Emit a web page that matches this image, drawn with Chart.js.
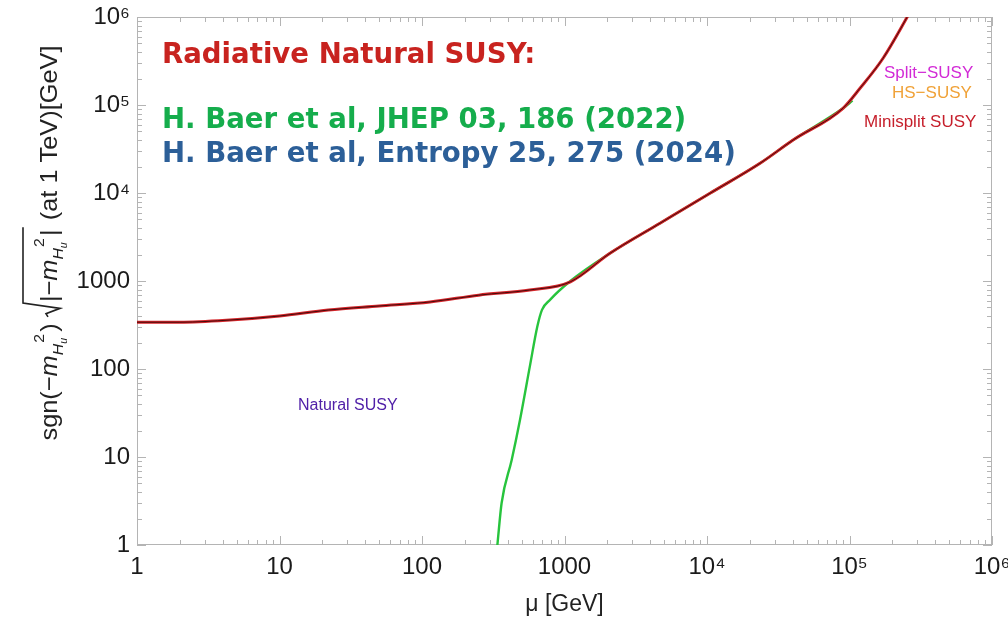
<!DOCTYPE html>
<html>
<head>
<meta charset="utf-8">
<script src="https://cdn.jsdelivr.net/npm/chart.js@4.4.1/dist/chart.umd.min.js"></script>
<style>
  html, body { margin: 0; padding: 0; background: #fff; }
  #wrap { width: 1008px; height: 622px; }
</style>
</head>
<body>
<div id="wrap"><canvas id="susyChart"></canvas></div>
<script>
// decade ticks on both log axes
const muTicks = [1, 10, 100, 1000, 1e4, 1e5, 1e6];
const muTickLabels = ['1', '10', '100', '1000', '10⁴', '10⁵', '10⁶'];
const mTicks = [1, 10, 100, 1000, 1e4, 1e5, 1e6];
const mTickLabels = ['1', '10', '100', '1000', '10⁴', '10⁵', '10⁶'];

// radiative natural SUSY curve (red)
const radMu = [1, 2, 4.5, 10, 22, 50, 114, 250, 570, 1100, 2085, 4680, 10500, 23570, 40200, 90000, 118500, 172000, 245000, 270000];
const radM = [340, 340, 360, 400, 468, 520, 578, 690, 790, 980, 2065, 4530, 9930, 21750, 40000, 91800, 155000, 340000, 900000, 1200000];

// natural SUSY curve (green)
const natMu = [338, 362, 426, 487, 573, 644, 695, 791, 1100, 2085, 4680, 10500, 23570, 40200, 90000, 105000];
const natM = [1, 3, 9.25, 26.4, 110, 302, 470, 610, 1000, 2065, 4530, 9930, 21750, 40000, 91800, 112000];

const radPoints = radMu.map((x, i) => ({ x: x, y: radM[i] }));
const natPoints = natMu.map((x, i) => ({ x: x, y: natM[i] }));

const tickFont = { family: '"Liberation Sans", Arial, sans-serif', size: 24 };

// frame + inward Mathematica-style tick marks
const frameTicks = {
    id: 'frameTicks',
    beforeDatasetsDraw(chart) {
        const { ctx, chartArea: a, scales } = chart;
        ctx.save();
        ctx.strokeStyle = '#b4b4b4';
        ctx.lineWidth = 1;
        ctx.strokeRect(a.left + 0.5, a.top + 0.5, a.right - a.left - 1, a.bottom - a.top - 1);
        ctx.beginPath();
        for (let d = 0; d < 6; d++) {
            for (let k = 1; k <= 10; k++) {
                const v = k * Math.pow(10, d);
                const len = (k === 1 || k === 10) ? 9 : 5;
                const px = Math.round(scales.x.getPixelForValue(v)) + 0.5;
                ctx.moveTo(px, a.bottom); ctx.lineTo(px, a.bottom - len);
                ctx.moveTo(px, a.top); ctx.lineTo(px, a.top + len);
                const py = Math.round(scales.y.getPixelForValue(v)) + 0.5;
                ctx.moveTo(a.left, py); ctx.lineTo(a.left + len, py);
                ctx.moveTo(a.right, py); ctx.lineTo(a.right - len, py);
            }
        }
        ctx.stroke();
        ctx.restore();
    }
};

// y axis title with sub/superscripts and a radical sign
const yTitle = {
    id: 'yTitle',
    afterDraw(chart) {
        const ctx = chart.ctx;
        const fs = 24;
        const fam = '"Liberation Sans", Arial, sans-serif';
        const parts = [
            { t: 'sgn(−', s: fs, dy: 0 },
            { t: 'm', s: fs, dy: 0, it: true },
            { t: 'H', s: 15, dy: 6, it: true, sup: '2' },
            { t: 'u', s: 10, dy: 10, it: true, gap: 6 },
            { t: ')', s: fs, dy: 0, gap: 4 },
            { sqrtStart: true },
            { t: '|−', s: fs, dy: 0 },
            { t: 'm', s: fs, dy: 0, it: true },
            { t: 'H', s: 15, dy: 6, it: true, sup: '2' },
            { t: 'u', s: 10, dy: 10, it: true, gap: 6 },
            { t: '|', s: fs, dy: 0, gap: 2 },
            { sqrtEnd: true },
            { t: ' (at 1 TeV)[GeV]', s: fs, dy: 0 }
        ];
        const fontOf = p => (p.it ? 'italic ' : '') + p.s + 'px ' + fam;
        let total = 0;
        parts.forEach(p => {
            if (p.sqrtStart) { total += 16; return; }
            if (p.sqrtEnd) return;
            ctx.font = fontOf(p);
            total += ctx.measureText(p.t).width + (p.gap || 0);
        });
        // the original title is stretched along its length
        const stretch = 395 / total;
        ctx.save();
        ctx.translate(57, 243);
        ctx.rotate(-Math.PI / 2);
        ctx.scale(stretch, 1);
        ctx.fillStyle = '#222';
        ctx.strokeStyle = '#222';
        ctx.textBaseline = 'alphabetic';
        let x = -total / 2;
        let sqrtX = 0;
        parts.forEach(p => {
            if (p.sqrtStart) { sqrtX = x + 2; x += 16; return; }
            if (p.sqrtEnd) {
                ctx.lineWidth = 1.6;
                ctx.beginPath();
                ctx.moveTo(sqrtX, -9);
                ctx.lineTo(sqrtX + 3, -11);
                ctx.lineTo(sqrtX + 8, 3);
                ctx.lineTo(sqrtX + 13, -34);
                ctx.lineTo(x, -34);
                ctx.stroke();
                return;
            }
            ctx.font = fontOf(p);
            ctx.fillText(p.t, x, p.dy);
            const w = ctx.measureText(p.t).width;
            if (p.sup) {
                ctx.font = '15px ' + fam;
                ctx.fillText(p.sup, x + w + 1, -13);
            }
            x += w + (p.gap || 0);
        });
        ctx.restore();
    }
};

// text annotations
const notes = {
    id: 'notes',
    afterDraw(chart) {
        const ctx = chart.ctx;
        ctx.save();
        ctx.textBaseline = 'alphabetic';
        ctx.textAlign = 'left';
        ctx.font = 'bold 27.6px "DejaVu Sans", sans-serif';
        ctx.fillStyle = '#c8231f';
        ctx.fillText('Radiative Natural SUSY:', 162, 63);
        ctx.fillStyle = '#15ad4c';
        ctx.fillText('H. Baer et al, JHEP 03, 186 (2022)', 162, 128);
        ctx.fillStyle = '#2c5f98';
        ctx.fillText('H. Baer et al, Entropy 25, 275 (2024)', 162, 162);

        ctx.font = '16px "Liberation Sans", Arial, sans-serif';
        ctx.fillStyle = '#5020a8';
        ctx.fillText('Natural SUSY', 298, 410);
        ctx.font = '17px "Liberation Sans", Arial, sans-serif';
        ctx.fillStyle = '#d22ad6';
        ctx.fillText('Split−SUSY', 884, 78);
        ctx.fillStyle = '#f0a238';
        ctx.fillText('HS−SUSY', 892, 98);
        ctx.fillStyle = '#c61f2b';
        ctx.fillText('Minisplit SUSY', 864, 127);
        ctx.restore();
    }
};

new Chart(document.getElementById('susyChart'), {
    type: 'line',
    data: {
        datasets: [{
            label: 'radiative-dark',
            data: radPoints,
            borderColor: 'rgba(50, 8, 8, 0.9)',
            borderWidth: 1,
            pointRadius: 0,
            cubicInterpolationMode: 'monotone',
            clip: 0
        }, {
            label: 'radiative',
            data: radPoints,
            borderColor: '#d4252a',
            borderWidth: 3,
            pointRadius: 0,
            cubicInterpolationMode: 'monotone',
            clip: 0
        }, {
            label: 'natural',
            data: natPoints,
            borderColor: '#27c43d',
            borderWidth: 2.4,
            pointRadius: 0,
            cubicInterpolationMode: 'monotone',
            clip: 0
        }]
    },
    options: {
        responsive: true,
        maintainAspectRatio: false,
        animation: false,
        layout: { padding: { top: 17, right: 16, left: 0, bottom: 0 } },
        plugins: {
            legend: { display: false },
            tooltip: { enabled: false }
        },
        scales: {
            x: {
                type: 'logarithmic',
                min: 1,
                max: 1e6,
                grid: { display: false, drawTicks: false },
                border: { display: false },
                afterBuildTicks: scale => { scale.ticks = muTicks.map(v => ({ value: v })); },
                afterFit: scale => {
                    scale.height = 77;
                    scale.paddingLeft = 0;
                    scale.paddingRight = 0;
                },
                ticks: {
                    font: tickFont,
                    color: '#1a1a1a',
                    padding: 8,
                    maxRotation: 0,
                    autoSkip: false,
                    callback: v => muTickLabels[muTicks.indexOf(v)]
                },
                title: {
                    display: true,
                    text: 'μ [GeV]',
                    font: { family: '"Liberation Sans", Arial, sans-serif', size: 23 },
                    color: '#222',
                    padding: { top: 2 }
                }
            },
            y: {
                type: 'logarithmic',
                min: 1,
                max: 1e6,
                grid: { display: false, drawTicks: false },
                border: { display: false },
                afterBuildTicks: scale => { scale.ticks = mTicks.map(v => ({ value: v })); },
                afterFit: scale => {
                    scale.width = 137;
                    scale.paddingTop = 0;
                    scale.paddingBottom = 0;
                },
                ticks: {
                    font: tickFont,
                    color: '#1a1a1a',
                    padding: 7,
                    autoSkip: false,
                    callback: v => mTickLabels[mTicks.indexOf(v)]
                }
            }
        }
    },
    plugins: [frameTicks, yTitle, notes]
});
</script>
</body>
</html>
